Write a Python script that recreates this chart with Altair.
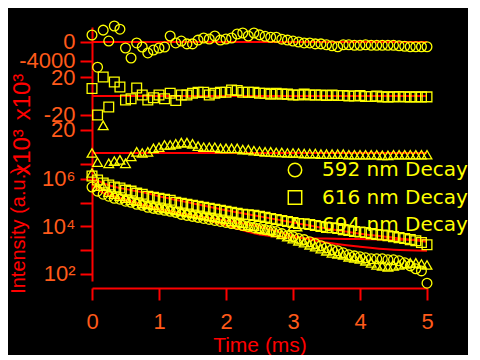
import altair as alt
import pandas as pd

# ---------------- data ----------------
t = [0, 0.083, 0.167, 0.25, 0.333, 0.417, 0.5, 0.583, 0.667, 0.75, 0.833, 0.917,
     1.0, 1.083, 1.167, 1.25, 1.333, 1.417, 1.5, 1.583, 1.667, 1.75, 1.833, 1.917,
     2.0, 2.083, 2.167, 2.25, 2.333, 2.417, 2.5, 2.583, 2.667, 2.75, 2.833, 2.917,
     3.0, 3.083, 3.167, 3.25, 3.333, 3.417, 3.5, 3.583, 3.667, 3.75, 3.833, 3.917,
     4.0, 4.083, 4.167, 4.25, 4.333, 4.417, 4.5, 4.583, 4.667, 4.75, 4.833, 4.917, 5.0]

# residuals (592 nm in raw units, 616/694 nm in units of 10^3)
res_592 = [1470, -5300, 2500, 200, 3370, 2700, -1260, -3370, -200, -1050, -2300, -1700,
           -1260, -1050, 1260, -200, 200, -400, -400, 400, 840, 630, 1260, 400,
           630, 840, 1680, 1900, 1260, 1900, 1500, 1200, 1000, 1000, 600, 400,
           200, 0, -200, -200, -400, -400, -600, -800, -1000, -600, -600, -700,
           -700, -600, -700, -700, -700, -700, -700, -800, -900, -1000, -1000, -1000, -1000]
res_616 = [8, -20.5, 20.5, -12, 15, 9.7, -4.3, -3, 8.6, 1, -4.3, -2,
           1, -3, 3, -5, 1, 1, 3, 4, 4, 1, 3, 4,
           4, 6.5, 6, 4, 4, 4, 3, 3, 2, 3, 2, 2,
           1, 1, 2, 1, 1, 1, 0.5, 1, 0.5, 0.5, 0, 0,
           0.5, -0.5, -0.5, 0, -1, -1, -1, -0.5, -1, -1, -1, -1, -1]
res_694 = [0, -8, 24, -9, -7, -6, -9, -3, 1, 0, 1, 4,
           5, 7, 7, 8, 9, 9, 8, 6, 5, 5, 5, 4,
           4, 4, 4, 3, 3, 2, 1.5, 1, 1, 0.5, 0.5, 0,
           0, 0, -0.5, -0.5, -0.5, -1, -1, -1, -1, -1, -1.5, -1.5,
           -1.5, -1.5, -1.5, -1.5, -2, -2, -1.5, -1.5, -1.5, -1.5, -1.5, -1.5, -1.5]

# decays (a.u.)
dec_592 = [4.57e5, 3.08e5, 2.30e5, 1.89e5, 1.55e5, 1.41e5, 1.16e5, 1.05e5, 8.6e4, 7.8e4, 6.4e4, 5.8e4,
           5.3e4, 4.8e4, 4.35e4, 3.94e4, 3.24e4, 2.94e4, 2.67e4, 2.42e4, 2.19e4, 1.99e4, 1.80e4, 1.63e4,
           1.48e4, 1.34e4, 1.22e4, 1.10e4, 1.00e4, 9.1e3, 8.2e3, 7.4e3, 6.8e3, 6.1e3, 5.0e3, 4.1e3,
           3.75e3, 3.1e3, 2.8e3, 2.3e3, 1.9e3, 1.55e3, 1.28e3, 1.05e3, 950, 780, 640, 580,
           530, 480, 435, 435, 435, 395, 395, 360, 295, 220, 165, 135, 41]
dec_616 = [1.34e6, 9.07e5, 6.76e5, 5.56e5, 4.57e5, 4.14e5, 3.40e5, 3.08e5, 2.54e5, 2.30e5, 1.89e5, 1.71e5,
           1.55e5, 1.41e5, 1.28e5, 1.05e5, 9.5e4, 8.6e4, 7.8e4, 7.1e4, 6.4e4, 5.8e4, 5.3e4, 4.8e4,
           4.35e4, 3.94e4, 3.57e4, 3.24e4, 3.1e4, 2.94e4, 2.67e4, 2.42e4, 2.19e4, 1.99e4, 1.80e4, 1.63e4,
           1.48e4, 1.34e4, 1.30e4, 1.22e4, 1.10e4, 1.00e4, 9.1e3, 8.8e3, 8.2e3, 7.4e3, 6.8e3, 6.1e3,
           5.9e3, 5.6e3, 5.0e3, 4.6e3, 4.4e3, 4.1e3, 3.75e3, 3.4e3, 3.1e3, 2.8e3, 2.5e3, 2.1e3, 1.7e3]
dec_694 = [1.80e6, 5.04e5, 5.04e5, 2.80e5, 2.30e5, 1.89e5, 1.55e5, 1.28e5, 1.16e5, 9.5e4, 8.6e4, 7.8e4,
           6.4e4, 5.8e4, 5.3e4, 4.8e4, 4.35e4, 3.94e4, 3.57e4, 3.24e4, 2.94e4, 2.67e4, 2.42e4, 2.19e4,
           1.99e4, 1.63e4, 1.48e4, 1.34e4, 1.10e4, 1.00e4, 8.2e3, 7.4e3, 6.8e3, 5.6e3, 4.6e3, 3.75e3,
           3.1e3, 2.5e3, 2.1e3, 1.7e3, 1.41e3, 1.16e3, 950, 780, 710, 640, 530, 480,
           435, 360, 295, 240, 220, 200, 220, 240, 265, 295, 295, 265, 240]

# fitted curves
fit_t = [0, 0.1, 0.2, 0.35, 0.5, 0.75, 1, 1.5, 2, 2.5, 3, 3.5, 4, 4.5, 5]
fit_592 = [6.13e5, 3.40e5, 2.30e5, 1.55e5, 1.16e5, 7.1e4, 4.8e4, 2.94e4, 1.80e4, 1.0e4, 4.1e3, 2.1e3, 1.41e3, 1.05e3, 950]
fit_616 = [1.10e6, 8.22e5, 6.13e5, 4.57e5, 3.75e5, 2.80e5, 1.89e5, 9.5e4, 4.8e4, 2.67e4, 1.48e4, 8.2e3, 5.0e3, 3.4e3, 2.3e3]
fit_694 = [1.10e6, 5.04e5, 3.08e5, 1.89e5, 1.41e5, 8.6e4, 5.8e4, 2.67e4, 1.10e4, 4.6e3, 3.4e3, 3.1e3, 2.95e3, 2.8e3, 2.8e3]

series_names = ["592 nm Decay", "616 nm Decay", "694 nm Decay"]
shapes = ["circle", "square", "triangle-up"]

# ---------------- styling ----------------
W = 335
YELLOW = "#ffff00"
RED = "#ff0000"
LABEL = "#ff5a1a"
TICKFONT = "Liberation Sans, sans-serif"
TITLEFONT = "Liberation Sans, sans-serif"
MSIZE = 95
MSTROKE = 1.3


def yaxis(values, expr, title=None, titleY=0, titleX=-68, titleSize=20):
    kw = dict(values=values, labelExpr=expr, domainColor=RED, domainWidth=2,
              tickColor=RED, tickWidth=2, tickSize=12, labelColor=LABEL,
              labelFont=TICKFONT, labelFontSize=22, labelPadding=5, grid=False,
              labelOverlap=False, labelBound=False, labelFlush=False)
    if title is not None:
        kw.update(titleColor=RED, titleFont=TITLEFONT, titleFontSize=titleSize,
                  titleFontWeight="normal", titleX=titleX, titleY=titleY,
                  titleAngle=270, titleBaseline="alphabetic", titleAlign="center")
    return alt.Axis(**kw)


xscale = alt.Scale(domain=[0, 5], nice=False, zero=False)


def resid_panel(vals, shape, domain, ticks, expr, height, title=None, titleY=0):
    df = pd.DataFrame({"t": t, "r": vals})
    ysc = alt.Scale(domain=domain, nice=False, zero=False)
    base = alt.Chart(df)
    zero = base.mark_rule(color=RED, strokeWidth=2).encode(
        y=alt.datum(0, scale=ysc)
    )
    pts = base.mark_point(shape=shape, filled=False, color=YELLOW, size=MSIZE,
                          strokeWidth=MSTROKE, opacity=1).encode(
        x=alt.X("t:Q", scale=xscale, axis=None),
        y=alt.Y("r:Q", scale=ysc, title=title,
                axis=yaxis(ticks, expr, title, titleY, titleX=-63, titleSize=24)),
    )
    return alt.layer(zero, pts).properties(width=W, height=height)


p1 = resid_panel(res_592, "circle", [-5900, 3160], [-4000, -2000, 0],
                 "datum.value == 0 ? '0' : datum.value == -4000 ? '-4000' : ''", 43)
p2 = resid_panel(res_616, "square", [-27, 28], [-20, -10, 0, 10, 20],
                 "datum.value == 0 ? '0' : datum.value == 20 ? '20' : datum.value == -20 ? '-20' : ''",
                 51, title="x10³", titleY=26.5)
p3 = resid_panel(res_694, "triangle-up", [-12.2, 27.8], [-10, -5, 0, 5, 10, 15, 20],
                 "datum.value == 0 ? '0' : datum.value == 20 ? '20' : ''",
                 46, title="x10³", titleY=31)

# main decay panel
dec_rows = []
for name, vals in zip(series_names, [dec_592, dec_616, dec_694]):
    for ti, v in zip(t, vals):
        dec_rows.append({"t": ti, "v": v, "series": name})
dec_df = pd.DataFrame(dec_rows)

fit_rows = []
for name, vals in zip(series_names, [fit_592, fit_616, fit_694]):
    for ti, v in zip(fit_t, vals):
        fit_rows.append({"t": ti, "v": v, "series": name})
fit_df = pd.DataFrame(fit_rows)

logscale = alt.Scale(type="log", domain=[50.7, 3.2e6], nice=False)
xaxis = alt.Axis(values=[0, 1, 2, 3, 4, 5], format="d", offset=7, domainColor=RED,
                 domainWidth=2, tickColor=RED, tickWidth=2, tickSize=12, labelColor=LABEL,
                 labelFont=TICKFONT, labelFontSize=22, labelPadding=11, grid=False,
                 labelFlush=False, labelOverlap=False, titleColor=RED,
                 titleFont=TITLEFONT, titleFontSize=21, titleFontWeight="normal",
                 titlePadding=2)

fits = alt.Chart(fit_df).mark_line(color=RED, strokeWidth=2, interpolate="monotone").encode(
    x=alt.X("t:Q", scale=xscale, title="Time (ms)", axis=xaxis),
    y=alt.Y("v:Q", scale=logscale, title="Intensity (a.u.)",
            axis=yaxis([100, 1000, 1e4, 1e5, 1e6],
                       "datum.value == 1e6 ? '10⁶' : datum.value == 1e4 ? '10⁴' : datum.value == 100 ? '10²' : ''",
                       "Intensity (a.u.)", 63)),
    detail="series:N",
)
pts = alt.Chart(dec_df).mark_point(filled=False, color=YELLOW, size=MSIZE,
                                   strokeWidth=MSTROKE, opacity=1).encode(
    x=alt.X("t:Q", scale=xscale, title="Time (ms)"),
    y=alt.Y("v:Q", scale=logscale, title="Intensity (a.u.)"),
    shape=alt.Shape("series:N", scale=alt.Scale(domain=series_names, range=shapes),
                    legend=alt.Legend(orient="none", legendX=193, legendY=-7, title=None,
                                      labelColor=YELLOW, labelFont="DejaVu Sans",
                                      labelFontSize=20, symbolSize=180,
                                      symbolStrokeColor=YELLOW, symbolFillColor="transparent",
                                      symbolStrokeWidth=1.5, labelOffset=17, rowPadding=7.5,
                                      padding=0)),
    order=alt.Order("series:N"),
)
main = alt.layer(fits, pts).properties(width=W, height=114)

chart = alt.vconcat(p1, p2, p3, main, spacing=0, bounds="flush").resolve_scale(
    x="independent", y="independent", shape="independent"
).resolve_legend(shape="independent").properties(
    background="black", padding={"left": 0, "top": 10, "right": 0, "bottom": 0}
).configure_view(strokeWidth=0)

chart.save("out.html", embed_options={"renderer": "svg", "actions": False})
